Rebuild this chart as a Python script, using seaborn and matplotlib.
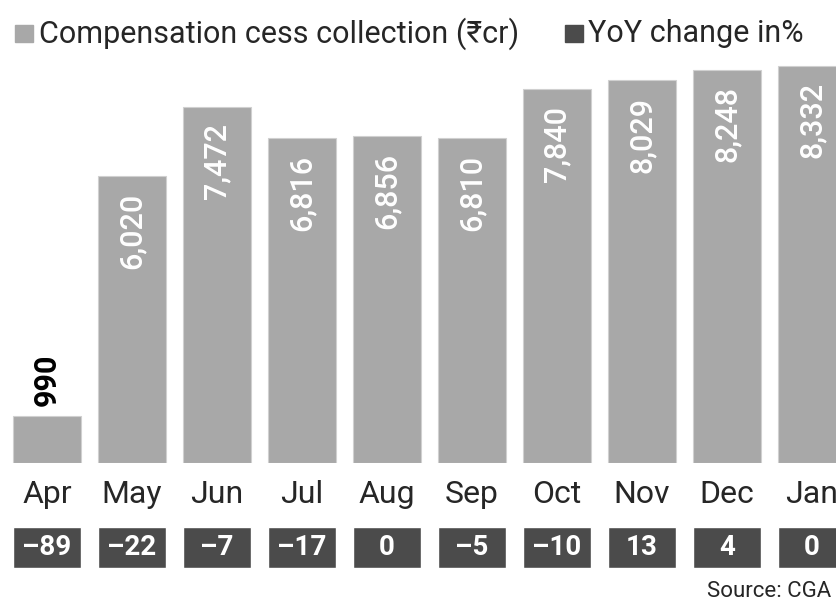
import seaborn as sns
import matplotlib.pyplot as plt
import pandas as pd

months = ["Apr", "May", "Jun", "Jul", "Aug", "Sep", "Oct", "Nov", "Dec", "Jan"]
cess = [990, 6020, 7472, 6816, 6856, 6810, 7840, 8029, 8248, 8332]
yoy = [-89, -22, -7, -17, 0, -5, -10, 13, 4, 0]

LIGHT = "#a8a8a8"
DARK = "#4b4b4b"

sns.set_style("white")
plt.rcParams["font.family"] = ["Roboto", "Noto Sans", "DejaVu Sans"]

df = pd.DataFrame({"month": months, "cess": cess, "yoy": yoy})

fig = plt.figure(figsize=(8.37, 6.07), dpi=100)

# main bars
ax = fig.add_axes([0, 0.237, 1, 0.763])
sns.barplot(data=df, x="month", y="cess", color=LIGHT, width=0.79,
            saturation=1, edgecolor="#d0d0d0", linewidth=0.8, ax=ax)
ax.set_xlim(-0.553, 9.294)
ax.set_ylim(0, 9706)
sns.despine(ax=ax, left=True, bottom=True)
ax.set_yticks([])
ax.set_xlabel("")
ax.set_ylabel("")
ax.tick_params(axis="x", length=0, pad=12, labelsize=23)

for i, v in enumerate(cess):
    if v < 2000:
        ax.text(i, v + 200, f"{v:,}", rotation=90, ha="center", va="bottom",
                fontsize=22, fontweight="bold", color="black")
    else:
        ax.text(i, v - 350, f"{v:,}", rotation=90, ha="center", va="top",
                fontsize=22, fontweight="medium", color="white")

# YoY boxes
ax2 = fig.add_axes([0, 0.064, 1, 0.0675])
sns.barplot(x=list(range(len(months))), y=[1] * len(months), color=DARK,
            width=0.79, saturation=1, ax=ax2)
ax2.set_xlim(-0.553, 9.294)
ax2.set_ylim(0, 1)
ax2.axis("off")
for i, v in enumerate(yoy):
    ax2.text(i, 0.5, f"{v}".replace("-", "\u2013"), ha="center", va="center",
             fontsize=20, fontweight="bold", color="white")

# legend
fig.patches.append(plt.Rectangle((0.018, 0.93), 0.021, 0.029, color=LIGHT,
                                 transform=fig.transFigure, figure=fig))
fig.text(0.047, 0.944, "Compensation cess collection (\u20b9cr)", fontsize=22,
         va="center", ha="left")
fig.patches.append(plt.Rectangle((0.675, 0.93), 0.021, 0.029, color=DARK,
                                 transform=fig.transFigure, figure=fig))
fig.text(0.703, 0.944, "YoY change in%", fontsize=22, va="center", ha="left")

fig.text(0.845, 0.008, "Source: CGA", fontsize=16, ha="left", va="bottom")

fig.savefig("out.png", dpi=100)
